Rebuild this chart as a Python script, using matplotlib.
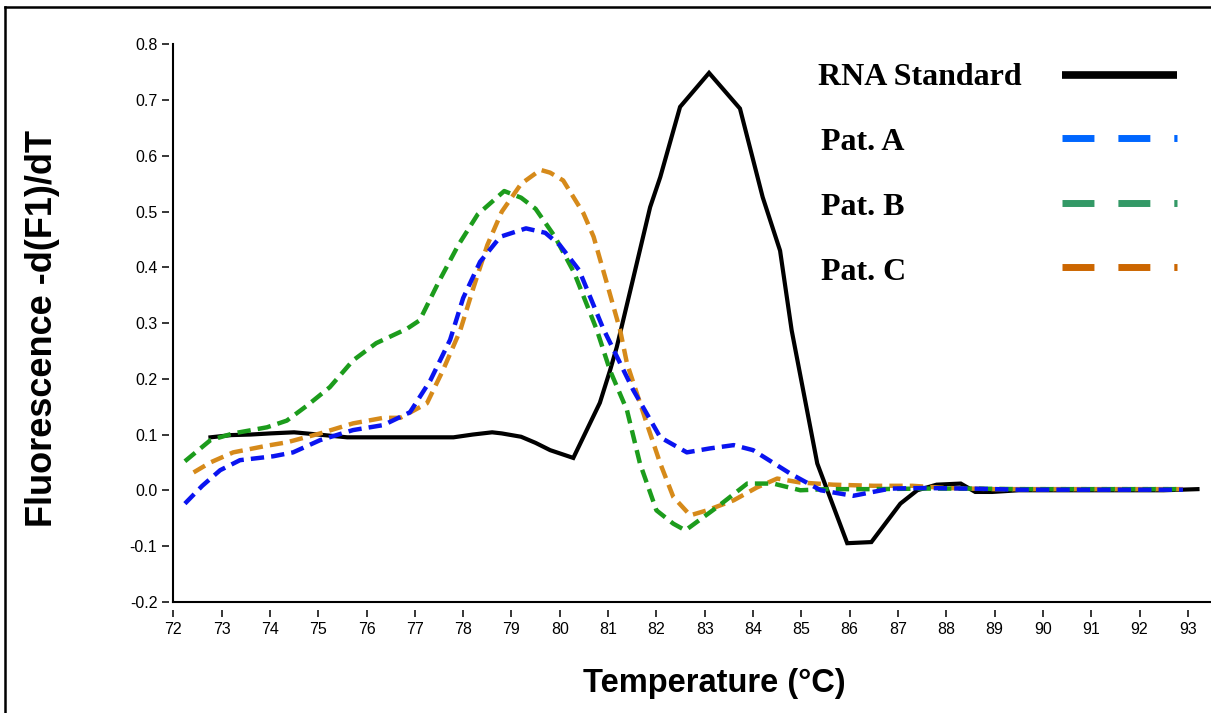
import matplotlib
matplotlib.use('Agg')
import matplotlib.pyplot as plt
from matplotlib.lines import Line2D

# melt curve data (temperature in C, -dF/dT)
black_t = [72.77, 73.2, 73.6, 74.0, 74.5, 75.0, 75.6, 76.0, 77.0, 77.8, 78.2, 78.6, 78.8,
           79.2, 79.5, 79.8, 80.28, 80.83, 81.04, 81.18, 81.5, 81.87, 82.08, 82.49, 83.09,
           83.73, 84.2, 84.56, 84.8, 85.33, 85.95, 86.45, 87.05, 87.4, 87.8, 88.3, 88.6,
           88.95, 89.5, 90.5, 91.5, 92.5, 93.2]
black_v = [0.095, 0.099, 0.1, 0.102, 0.104, 0.1, 0.095, 0.095, 0.095, 0.095, 0.1, 0.104, 0.102,
           0.096, 0.085, 0.072, 0.058, 0.157, 0.215, 0.257, 0.373, 0.508, 0.562, 0.688, 0.749,
           0.685, 0.526, 0.43, 0.287, 0.048, -0.095, -0.093, -0.024, 0.0, 0.01, 0.012, -0.003,
           -0.003, 0.0, 0.0, 0.0, 0.0, 0.002]

blue_t = [72.24, 72.6, 72.97, 73.38, 74.07, 74.48, 75.04, 75.72, 76.35, 76.9, 77.32, 77.73,
          78.0, 78.35, 78.77, 79.3, 79.7, 80.0, 80.4, 80.9, 81.52, 82.08, 82.63, 83.1, 83.6,
          84.0, 84.77, 85.4, 86.07, 86.84, 87.5, 88.5, 89.5, 90.5, 91.5, 92.5, 92.9]
blue_v = [-0.024, 0.008, 0.036, 0.054, 0.061, 0.068, 0.09, 0.108, 0.117, 0.14, 0.197, 0.27,
          0.345, 0.41, 0.455, 0.47, 0.462, 0.44, 0.395, 0.29, 0.18, 0.095, 0.068, 0.075, 0.081,
          0.072, 0.03, 0.0, -0.01, 0.003, 0.004, 0.003, 0.001, 0.001, 0.001, 0.001, 0.001]

green_t = [72.24, 72.77, 73.24, 73.94, 74.35, 74.77, 75.24, 75.72, 76.2, 76.84, 77.1, 77.5,
           77.9, 78.3, 78.85, 79.2, 79.5, 79.9, 80.3, 80.77, 81.04, 81.39, 81.66, 82.0, 82.35,
           82.6, 83.26, 83.88, 84.42, 84.98, 85.5, 86.5, 87.5, 88.5, 89.5, 90.5, 91.5, 92.5, 92.9]
green_v = [0.052, 0.09, 0.102, 0.113, 0.125, 0.152, 0.185, 0.233, 0.264, 0.29, 0.305, 0.375,
           0.44, 0.495, 0.537, 0.525, 0.505, 0.455, 0.39, 0.287, 0.215, 0.144, 0.048, -0.036,
           -0.06, -0.072, -0.03, 0.012, 0.012, 0.0, 0.002, 0.002, 0.003, 0.003, 0.002, 0.002,
           0.002, 0.002, 0.002]

orange_t = [72.42, 72.77, 73.24, 73.94, 74.35, 75.04, 75.72, 76.35, 76.7, 77.25, 77.58, 77.94,
            78.2, 78.5, 78.8, 79.2, 79.6, 79.8, 80.07, 80.49, 80.7, 80.98, 81.25, 81.39, 81.8,
            82.08, 82.35, 82.7, 83.05, 83.6, 84.08, 84.5, 84.97, 85.66, 86.5, 87.3, 88.0, 89.0,
            90.0, 91.0, 92.0, 92.9]
orange_v = [0.032, 0.05, 0.068, 0.08, 0.086, 0.102, 0.12, 0.13, 0.13, 0.156, 0.215, 0.287,
            0.36, 0.44, 0.5, 0.55, 0.575, 0.57, 0.556, 0.497, 0.455, 0.37, 0.287, 0.228, 0.12,
            0.048, -0.012, -0.045, -0.036, -0.018, 0.005, 0.021, 0.014, 0.01, 0.008, 0.008,
            0.004, 0.002, 0.002, 0.002, 0.002, 0.002]

legend_names = ['RNA Standard', 'Pat. A', 'Pat. B', 'Pat. C']
legend_colors = ['black', '#0066ff', '#339966', '#cc6600']

x_ticks = list(range(72, 94))
y_ticks = [-0.2, -0.1, 0.0, 0.1, 0.2, 0.3, 0.4, 0.5, 0.6, 0.7, 0.8]

fig = plt.figure(figsize=(12.11, 7.13), dpi=100)
ax = fig.add_axes([0.1431, 0.1561, 0.8569, 0.7815])

ax.plot(black_t, black_v, color='black', lw=3.0, solid_joinstyle='miter')
ax.plot(orange_t, orange_v, color='#d68a1a', lw=3.2, dashes=(3, 1.6))
ax.plot(green_t, green_v, color='#1c9c1c', lw=3.2, dashes=(3, 1.6))
ax.plot(blue_t, blue_v, color='#0a14f0', lw=3.2, dashes=(3, 1.6))

ax.set_xlim(72, 93.48)
ax.set_ylim(-0.2, 0.8)
for s in ['top', 'right']:
    ax.spines[s].set_visible(False)
for s in ['left', 'bottom']:
    ax.spines[s].set_linewidth(1.5)
ax.tick_params(left=False, bottom=False, labelleft=False, labelbottom=False)

# ticks sit a little away from the axis lines, like the original software
secx = ax.secondary_xaxis(-0.0144)
secx.spines['bottom'].set_visible(False)
secx.set_xticks(x_ticks)
secx.tick_params(direction='out', length=5, width=1.1, pad=3.5, labelsize=11.5)

secy = ax.secondary_yaxis(-0.004)
secy.spines['left'].set_visible(False)
secy.set_yticks(y_ticks)
secy.set_yticklabels(['%.1f' % v for v in y_ticks])
secy.tick_params(direction='out', length=5, width=1.1, pad=3.5, labelsize=11.5)

for lab in secx.get_xticklabels() + secy.get_yticklabels():
    lab.set_family('Liberation Sans')

fig.text(0.590, 0.042, 'Temperature (\u00b0C)', ha='center', va='center',
         fontsize=23.5, fontweight='bold', family='Liberation Sans')
fig.text(0.035, 0.539, 'Fluorescence -d(F1)/dT', ha='center', va='center', rotation=90,
         fontsize=26, fontweight='bold', family='Liberation Sans')

# legend drawn by hand on the right
rows_y = [0.8948, 0.8065, 0.7153, 0.6255]
text_y = [0.8915, 0.7995, 0.7095, 0.6185]
text_x = [0.6755, 0.678, 0.678, 0.678]
for i in range(4):
    fig.text(text_x[i], text_y[i], legend_names[i], ha='left', va='center',
             fontsize=23, fontweight='bold', family='Liberation Serif')
    if i == 0:
        ln = Line2D([0.877, 0.972], [rows_y[i], rows_y[i]], color=legend_colors[i],
                    lw=5.5, solid_capstyle='butt', transform=fig.transFigure)
    else:
        ln = Line2D([0.877, 0.972], [rows_y[i], rows_y[i]], color=legend_colors[i],
                    lw=5, dashes=(4.6, 3.45), dash_capstyle='butt', transform=fig.transFigure)
    fig.add_artist(ln)

# frame lines at top and left of the image
fig.add_artist(Line2D([0.0041, 1.0], [0.990, 0.990], color='black', lw=1.8,
                      transform=fig.transFigure))
fig.add_artist(Line2D([0.0041, 0.0041], [0.0, 0.990], color='black', lw=1.8,
                      transform=fig.transFigure))

fig.savefig('out.png', dpi=100)
